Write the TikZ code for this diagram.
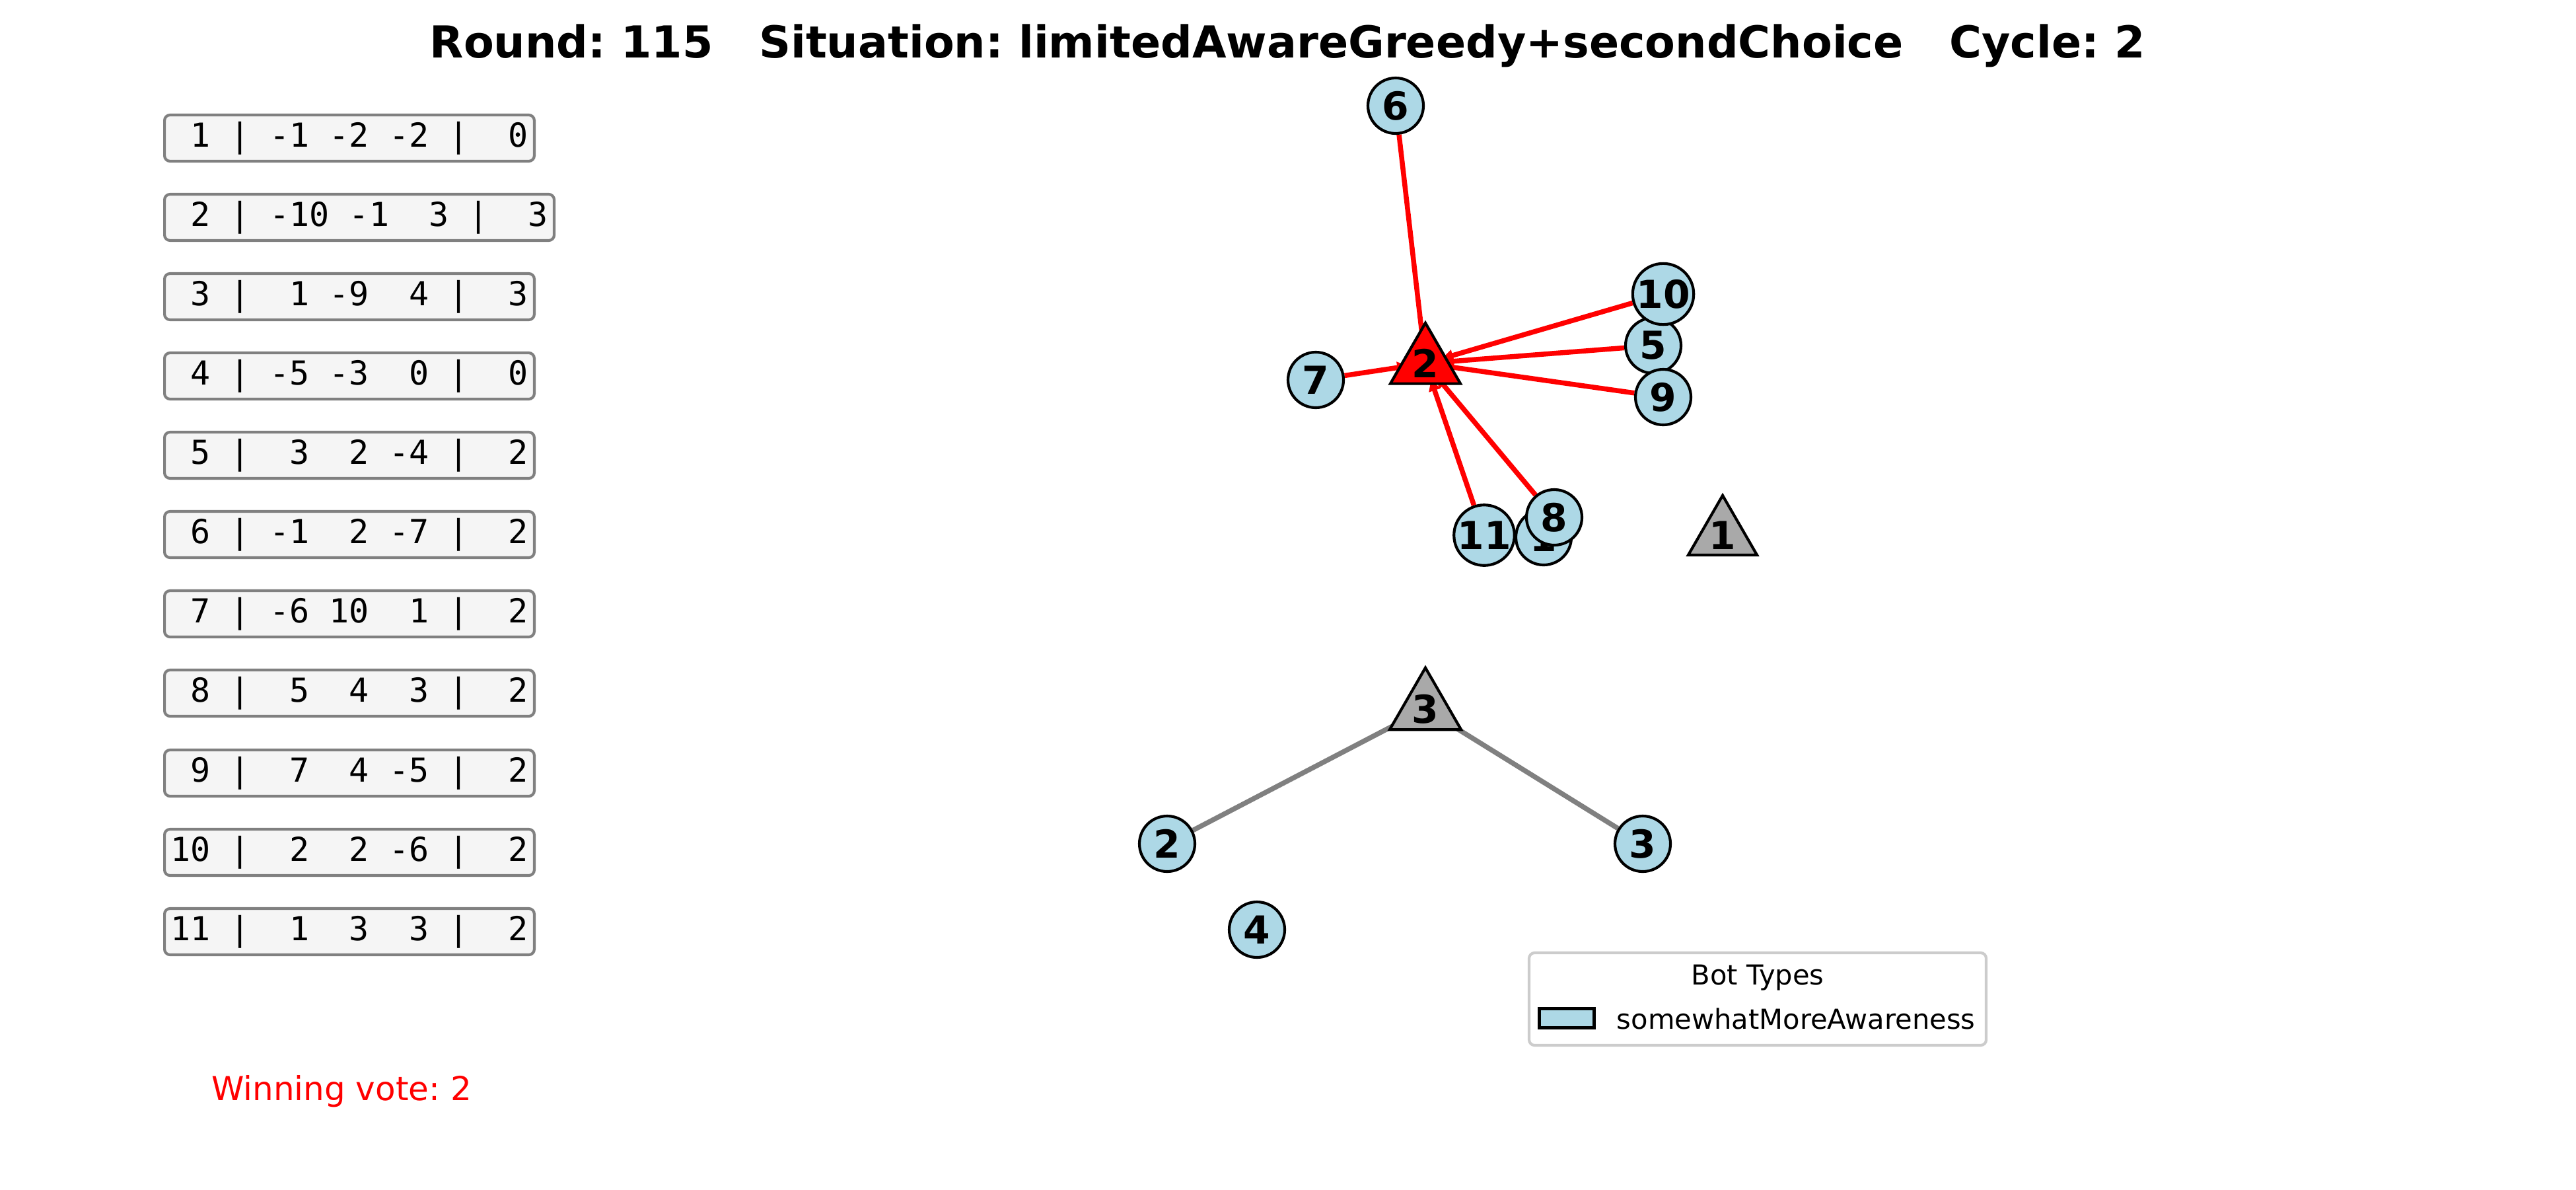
\documentclass[tikz,border=0pt]{standalone}
\usepackage{fontspec}
\setmainfont{DejaVu Sans}
\setmonofont{DejaVu Sans Mono}
\usetikzlibrary{shapes.geometric,arrows.meta}
\frenchspacing

\newlength{\du}
\setlength{\du}{0.240900pt}

\definecolor{botblue}{rgb}{0.678431, 0.847059, 0.901961}
\definecolor{candgray}{rgb}{0.662745, 0.662745, 0.662745}
\definecolor{edgegray}{rgb}{0.501961, 0.501961, 0.501961}
\definecolor{boxfill}{rgb}{0.960784, 0.960784, 0.960784}
\definecolor{framegray}{rgb}{0.800000, 0.800000, 0.800000}

\pgfdeclarelayer{edges}
\pgfsetlayers{edges,main}

\tikzset{
  bot/.style={circle, draw=black, fill=botblue, line width=1bp, minimum size=84\du,
    inner sep=0pt, font=\fontsize{14bp}{14bp}\bfseries},
  cand/.style={regular polygon, regular polygon sides=3, draw=black, fill=candgray,
    line width=1bp, minimum size=119\du, inner sep=0pt, font=\fontsize{14bp}{14bp}\bfseries},
  winner/.style={cand, fill=red},
  vote/.style={line width=1.8bp, -{Triangle[length=4.1pt,width=4.1pt]}, shorten >=26\du},
  votered/.style={vote, draw=red},
  votegray/.style={vote, draw=edgegray},
  prefbox/.style={draw=edgegray, fill=boxfill, rounded corners=2bp, line width=1bp,
    anchor=west, inner xsep=9\du, inner ysep=0pt, minimum height=70\du,
    font=\fontsize{12bp}{12bp}\ttfamily},
}

\begin{document}
\begin{tikzpicture}
\pgftransformxscale{1.000000}
\pgftransformyscale{-1.000000}
\useasboundingbox (0\du,0\du) rectangle (3900\du,1800\du);
% title
\node[anchor=base, font=\fontsize{16bp}{16bp}\bfseries] (title) at (1949\du,87\du)
  {Round: 115\ \ \ Situation: limitedAwareGreedy+secondChoice\ \ \ Cycle: 2};
% preference table
\node[prefbox] (row1) at (247\du,209\du) {~1~|~-1~-2~-2~|~~0};
\node[prefbox] (row2) at (247\du,329\du) {~2~|~-10~-1~~3~|~~3};
\node[prefbox] (row3) at (247\du,449\du) {~3~|~~1~-9~~4~|~~3};
\node[prefbox] (row4) at (247\du,569\du) {~4~|~-5~-3~~0~|~~0};
\node[prefbox] (row5) at (247\du,689\du) {~5~|~~3~~2~-4~|~~2};
\node[prefbox] (row6) at (247\du,809\du) {~6~|~-1~~2~-7~|~~2};
\node[prefbox] (row7) at (247\du,929\du) {~7~|~-6~10~~1~|~~2};
\node[prefbox] (row8) at (247\du,1049\du) {~8~|~~5~~4~~3~|~~2};
\node[prefbox] (row9) at (247\du,1170\du) {~9~|~~7~~4~-5~|~~2};
\node[prefbox] (row10) at (247\du,1290\du) {10~|~~2~~2~-6~|~~2};
\node[prefbox] (row11) at (247\du,1410\du) {11~|~~1~~3~~3~|~~2};
% winner
\node[anchor=base, text=red, font=\fontsize{12bp}{12bp}\selectfont] (winvote) at (517\du,1665\du) {Winning vote: 2};
% candidates
\node[cand] (cand1) at (2608\du,810\du) {1};
\node[winner] (cand2) at (2158\du,550\du) {2};
\node[cand] (cand3) at (2158\du,1073\du) {3};
% bots
\node[bot] (bot1) at (2337\du,813\du) {1};
\node[bot] (bot2) at (1767\du,1277\du) {2};
\node[bot] (bot3) at (2487\du,1277\du) {3};
\node[bot] (bot4) at (1903\du,1407\du) {4};
\node[bot] (bot5) at (2503\du,523\du) {5};
\node[bot] (bot6) at (2113\du,160\du) {6};
\node[bot] (bot7) at (1992\du,575\du) {7};
\node[bot] (bot8) at (2353\du,783\du) {8};
\node[bot] (bot9) at (2518\du,601\du) {9};
\node[bot] (bot10) at (2518\du,445\du) {10};
\node[bot] (bot11) at (2247\du,810\du) {11};
% votes
\begin{pgfonlayer}{edges}
\draw[votered] (bot6) -- (cand2.center);
\draw[votered] (bot7) -- (cand2.center);
\draw[votered] (bot10) -- (cand2.center);
\draw[votered] (bot5) -- (cand2.center);
\draw[votered] (bot9) -- (cand2.center);
\draw[votered] (bot11) -- (cand2.center);
\draw[votered] (bot8) -- (cand2.center);
\draw[votegray] (bot2) -- (cand3.center);
\draw[votegray] (bot3) -- (cand3.center);
\end{pgfonlayer}
% legend
\node[draw=framegray, fill=white, line width=1bp, rounded corners=2bp, minimum width=692\du,
  minimum height=140\du, inner sep=0pt] (legend) at (2661\du,1512\du) {};
\node[font=\fontsize{10bp}{10bp}\selectfont] (legendtitle) at (2661\du,1480\du) {Bot Types};
\node[draw=black, fill=botblue, line width=1bp, minimum width=83\du, minimum height=29\du,
  inner sep=0pt] (legendpatch) at (2372\du,1541\du) {};
\node[anchor=west, inner sep=0pt, font=\fontsize{10bp}{10bp}\selectfont] (legendtext)
  at (2447\du,1542\du) {somewhatMoreAwareness};
\end{tikzpicture}
\end{document}
